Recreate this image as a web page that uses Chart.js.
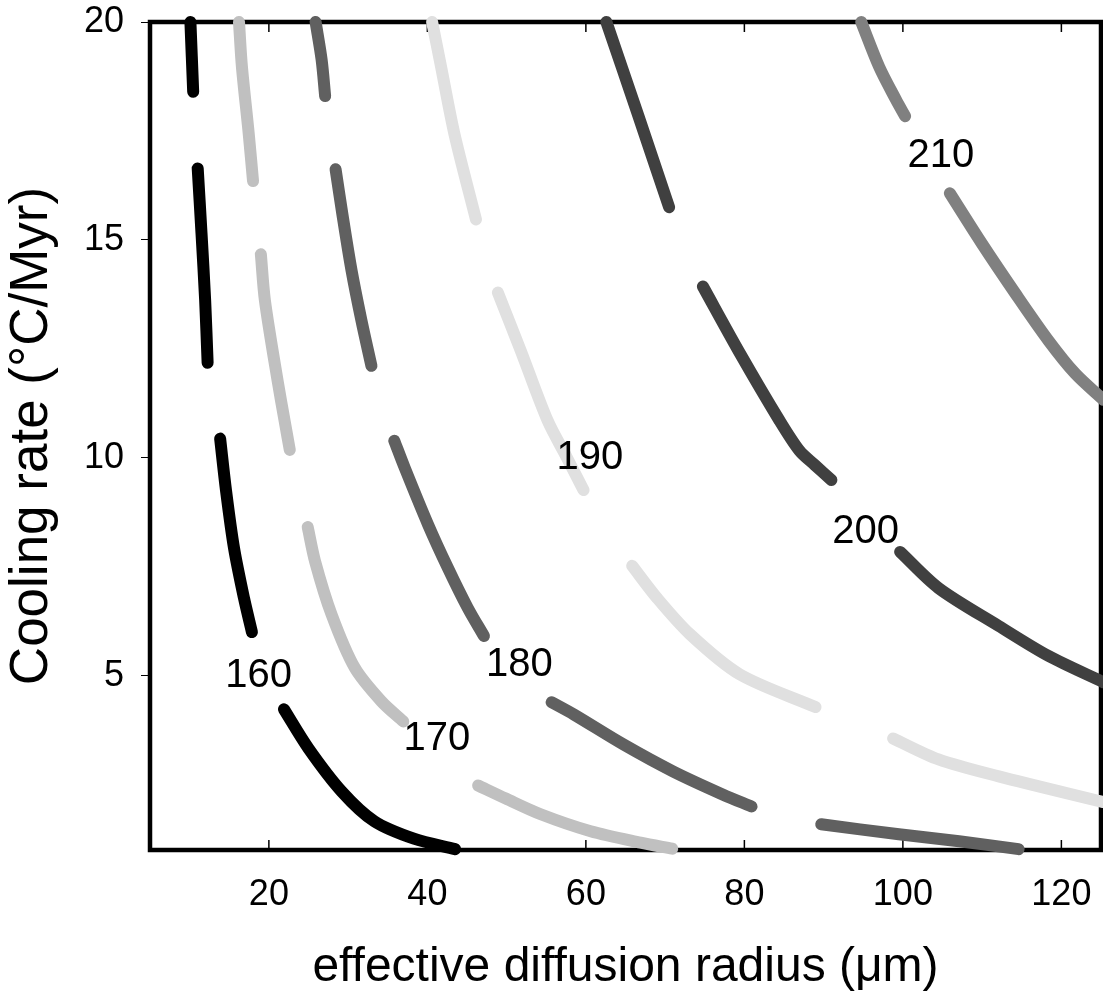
<!DOCTYPE html>
<html><head><meta charset="utf-8">
<script src="https://cdn.jsdelivr.net/npm/chart.js@4.4.1/dist/chart.umd.min.js"></script>
<style>html,body{margin:0;padding:0;background:#fff;overflow:hidden}</style>
</head><body>
<canvas id="c" width="1103" height="996"></canvas>
<script>
// ---- data ----
const xTicks = [20, 40, 60, 80, 100, 120];
const yTicks = [5, 10, 15, 20];
const contourLevels = [160, 170, 180, 190, 200, 210];
const contourColors = ['#000000', '#c0c0c0', '#606060', '#e0e0e0', '#404040', '#808080'];

// each contour: list of visible dash pieces, each a list of [radius, coolingRate]
const c160 = [
  [[10.1, 20.0], [10.45, 18.4]],
  [[11.02, 16.64], [11.5, 15.15], [11.96, 13.61], [12.27, 12.18]],
  [[13.85, 10.44], [14.6, 9.24], [15.6, 7.93], [16.86, 6.78], [17.86, 6.0]],
  [[21.9, 4.23], [25.0, 3.33], [29.2, 2.34], [33.3, 1.66], [38.3, 1.26], [43.5, 1.02]]
];
const c170 = [
  [[16.23, 20.0], [16.6, 18.97], [17.45, 17.45], [18.0, 16.35]],
  [[18.99, 14.67], [19.5, 13.61], [21.1, 11.77], [22.05, 10.78], [22.64, 10.18]],
  [[24.9, 8.41], [25.82, 7.63], [27.9, 6.41], [30.84, 5.18], [34.2, 4.41], [36.96, 3.95]],
  [[46.4, 2.48], [49.9, 2.18], [54.3, 1.82], [60.6, 1.43], [66.9, 1.17], [70.9, 1.03]]
];
const c180 = [
  [[25.9, 20.0], [26.66, 19.13], [27.1, 18.3]],
  [[28.42, 16.62], [29.3, 15.56], [30.43, 14.3], [31.68, 13.15], [32.94, 12.11]],
  [[35.83, 10.39], [37.12, 9.78], [40.06, 8.48], [42.57, 7.48], [45.08, 6.56], [47.14, 5.91]],
  [[55.68, 4.39], [58.48, 4.11], [64.76, 3.42], [71.04, 2.8], [77.32, 2.27], [80.9, 2.0]],
  [[89.7, 1.59], [99.5, 1.36], [107.1, 1.2], [114.6, 1.02]]
];
const c190 = [
  [[40.6, 20.0], [41.73, 18.97], [43.4, 17.44], [46.13, 15.47]],
  [[48.9, 13.79], [51.78, 12.46], [55.18, 10.85], [57.56, 10.02], [59.7, 9.26]],
  [[65.85, 7.52], [68.99, 6.78], [73.14, 5.95], [79.42, 5.03], [88.97, 4.28]],
  [[98.77, 3.56], [104.5, 3.08], [112.1, 2.69], [125.3, 2.1]]
];
const c200 = [
  [[62.59, 20.0], [66.6, 17.86], [70.5, 15.75]],
  [[74.77, 13.93], [79.4, 12.41], [84.45, 10.85], [86.96, 10.16], [88.85, 9.84], [90.98, 9.49]],
  [[99.65, 7.84], [104.5, 7.01], [112.1, 6.14], [118.4, 5.45], [125.3, 4.85]]
];
const c210 = [
  [[94.75, 20.0], [97.01, 18.97], [99.15, 18.21], [100.28, 17.84]],
  [[105.93, 16.07], [109.95, 14.92], [114.2, 13.77], [118.37, 12.69], [121.76, 11.93], [125.3, 11.33]]
];
const contourPieces = [c160, c170, c180, c190, c200, c210];

// contour label anchors (data coordinates)
const labelX = [18.7, 41.2, 51.6, 60.5, 95.3, 104.8];
const labelY = [5.0, 3.55, 5.25, 10.0, 8.3, 16.92];

// ---- chart ----
const FONT = '"Liberation Sans", Arial, Helvetica, sans-serif';

const datasets = contourPieces.map((pieces, i) => {
  const data = [];
  pieces.forEach((seg, k) => {
    if (k > 0) data.push({x: seg[0][0], y: null});
    seg.forEach(p => data.push({x: p[0], y: p[1]}));
  });
  return {
    label: String(contourLevels[i]),
    data,
    showLine: true,
    spanGaps: false,
    borderColor: contourColors[i],
    backgroundColor: contourColors[i],
    borderWidth: 12,
    borderCapStyle: 'round',
    borderJoinStyle: 'round',
    pointRadius: 0,
    pointHoverRadius: 0,
    tension: 0.3,
    clip: false
  };
});

const framePlugin = {
  id: 'frame',
  beforeDatasetsDraw(chart) {
    const {ctx, chartArea: a, scales} = chart;
    ctx.save();
    ctx.strokeStyle = '#000';
    ctx.lineWidth = 1.5;
    xTicks.forEach(v => {
      const px = scales.x.getPixelForValue(v);
      ctx.beginPath();
      ctx.moveTo(px, a.top); ctx.lineTo(px, a.top + 10);
      ctx.moveTo(px, a.bottom); ctx.lineTo(px, a.bottom - 10);
      ctx.stroke();
    });
    ctx.lineWidth = 4.5;
    ctx.strokeRect(a.left, a.top, a.right - a.left, a.bottom - a.top);
    ctx.restore();
  },
  afterDatasetsDraw(chart) {
    const {ctx, scales} = chart;
    ctx.save();
    ctx.fillStyle = '#000';
    ctx.font = '40px ' + FONT;
    ctx.textAlign = 'center';
    ctx.textBaseline = 'middle';
    contourLevels.forEach((lv, i) => {
      ctx.fillText(String(lv), scales.x.getPixelForValue(labelX[i]), scales.y.getPixelForValue(labelY[i]));
    });
    ctx.restore();
  }
};

new Chart(document.getElementById('c'), {
  type: 'scatter',
  data: {datasets},
  options: {
    responsive: false,
    animation: false,
    devicePixelRatio: 1,
    events: [],
    layout: {padding: {top: 22, right: 2, left: 0, bottom: 0}},
    plugins: {legend: {display: false}, tooltip: {enabled: false}},
    scales: {
      x: {
        type: 'linear', min: 5, max: 125,
        afterBuildTicks: s => { s.ticks = xTicks.map(v => ({value: v})); },
        afterFit: s => { s.height = 146; s.paddingLeft = 0; s.paddingRight = 0; },
        grid: {display: false},
        border: {display: false},
        ticks: {color: '#000', font: {family: FONT, size: 36, lineHeight: 1}, padding: 19, maxRotation: 0, autoSkip: false},
        title: {display: true, text: 'effective diffusion radius (\u03bcm)', color: '#000',
                font: {family: FONT, size: 48, lineHeight: 1}, padding: {top: 0, bottom: 4}}
      },
      y: {
        type: 'linear', min: 1, max: 20,
        afterBuildTicks: s => { s.ticks = yTicks.map(v => ({value: v})); },
        afterFit: s => { s.width = 150; s.paddingTop = 0; s.paddingBottom = 0; },
        grid: {drawOnChartArea: false, drawTicks: true, tickLength: 9, color: '#000', lineWidth: 1},
        border: {display: false},
        ticks: {color: '#000', font: {family: FONT, size: 36, lineHeight: 1}, padding: 17, autoSkip: false},
        title: {display: true, text: 'Cooling rate (\u00b0C/Myr)', color: '#000',
                font: {family: FONT, size: 53, lineHeight: 1}, padding: {top: 6, bottom: 0}}
      }
    }
  },
  plugins: [framePlugin]
});
</script>
</body></html>
